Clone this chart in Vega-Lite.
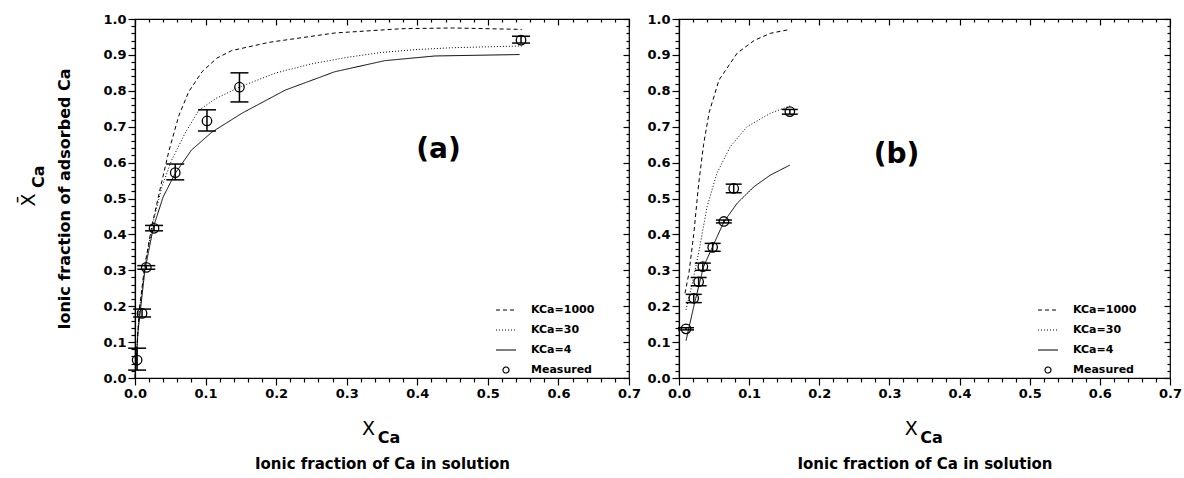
{
  "$schema": "https://vega.github.io/schema/vega-lite/v6.json",
  "padding": {"left": 19, "top": 12, "right": 0, "bottom": 5},
  "background": "white",
  "datasets": {
    "curvesA": [
      {"series": "KCa=1000", "x": 0.0, "y": 0.0},
      {"series": "KCa=1000", "x": 0.002, "y": 0.06},
      {"series": "KCa=1000", "x": 0.006, "y": 0.19},
      {"series": "KCa=1000", "x": 0.014, "y": 0.315},
      {"series": "KCa=1000", "x": 0.024, "y": 0.425},
      {"series": "KCa=1000", "x": 0.036, "y": 0.53},
      {"series": "KCa=1000", "x": 0.048, "y": 0.632},
      {"series": "KCa=1000", "x": 0.062, "y": 0.73},
      {"series": "KCa=1000", "x": 0.076, "y": 0.797},
      {"series": "KCa=1000", "x": 0.095, "y": 0.853},
      {"series": "KCa=1000", "x": 0.116, "y": 0.891},
      {"series": "KCa=1000", "x": 0.137, "y": 0.912},
      {"series": "KCa=1000", "x": 0.19, "y": 0.935},
      {"series": "KCa=1000", "x": 0.283, "y": 0.961},
      {"series": "KCa=1000", "x": 0.378, "y": 0.973},
      {"series": "KCa=1000", "x": 0.45, "y": 0.975},
      {"series": "KCa=1000", "x": 0.548, "y": 0.971},
      {"series": "KCa=30", "x": 0.0, "y": 0.0},
      {"series": "KCa=30", "x": 0.002, "y": 0.055},
      {"series": "KCa=30", "x": 0.006, "y": 0.185},
      {"series": "KCa=30", "x": 0.014, "y": 0.31},
      {"series": "KCa=30", "x": 0.024, "y": 0.42},
      {"series": "KCa=30", "x": 0.038, "y": 0.532},
      {"series": "KCa=30", "x": 0.052, "y": 0.607},
      {"series": "KCa=30", "x": 0.071, "y": 0.682},
      {"series": "KCa=30", "x": 0.09, "y": 0.745},
      {"series": "KCa=30", "x": 0.114, "y": 0.778},
      {"series": "KCa=30", "x": 0.15, "y": 0.812},
      {"series": "KCa=30", "x": 0.2, "y": 0.85},
      {"series": "KCa=30", "x": 0.25, "y": 0.875},
      {"series": "KCa=30", "x": 0.3, "y": 0.893},
      {"series": "KCa=30", "x": 0.35, "y": 0.907},
      {"series": "KCa=30", "x": 0.4, "y": 0.915},
      {"series": "KCa=30", "x": 0.45, "y": 0.92},
      {"series": "KCa=30", "x": 0.55, "y": 0.925},
      {"series": "KCa=4", "x": 0.001, "y": 0.02},
      {"series": "KCa=4", "x": 0.004, "y": 0.125},
      {"series": "KCa=4", "x": 0.014, "y": 0.3},
      {"series": "KCa=4", "x": 0.026, "y": 0.42},
      {"series": "KCa=4", "x": 0.04, "y": 0.505},
      {"series": "KCa=4", "x": 0.057, "y": 0.57},
      {"series": "KCa=4", "x": 0.08, "y": 0.635},
      {"series": "KCa=4", "x": 0.109, "y": 0.685},
      {"series": "KCa=4", "x": 0.152, "y": 0.738},
      {"series": "KCa=4", "x": 0.213, "y": 0.802},
      {"series": "KCa=4", "x": 0.283, "y": 0.853},
      {"series": "KCa=4", "x": 0.354, "y": 0.884},
      {"series": "KCa=4", "x": 0.425, "y": 0.897},
      {"series": "KCa=4", "x": 0.545, "y": 0.901}
    ],
    "pointsA": [
      {"x": 0.003, "y": 0.05, "ylo": 0.022, "yhi": 0.083},
      {"x": 0.01, "y": 0.18, "ylo": 0.17, "yhi": 0.192},
      {"x": 0.016, "y": 0.308, "ylo": 0.303, "yhi": 0.313},
      {"x": 0.027, "y": 0.417, "ylo": 0.41, "yhi": 0.425},
      {"x": 0.057, "y": 0.572, "ylo": 0.552, "yhi": 0.596},
      {"x": 0.102, "y": 0.716, "ylo": 0.688, "yhi": 0.747},
      {"x": 0.148, "y": 0.81, "ylo": 0.769, "yhi": 0.85},
      {"x": 0.547, "y": 0.941, "ylo": 0.933, "yhi": 0.952}
    ],
    "curvesB": [
      {"series": "KCa=1000", "x": 0.0085, "y": 0.236},
      {"series": "KCa=1000", "x": 0.014, "y": 0.29},
      {"series": "KCa=1000", "x": 0.021, "y": 0.4},
      {"series": "KCa=1000", "x": 0.028, "y": 0.54},
      {"series": "KCa=1000", "x": 0.035, "y": 0.65},
      {"series": "KCa=1000", "x": 0.043, "y": 0.74},
      {"series": "KCa=1000", "x": 0.057, "y": 0.83},
      {"series": "KCa=1000", "x": 0.083, "y": 0.905},
      {"series": "KCa=1000", "x": 0.107, "y": 0.94},
      {"series": "KCa=1000", "x": 0.13, "y": 0.96},
      {"series": "KCa=1000", "x": 0.158, "y": 0.971},
      {"series": "KCa=30", "x": 0.01, "y": 0.19},
      {"series": "KCa=30", "x": 0.018, "y": 0.255},
      {"series": "KCa=30", "x": 0.028, "y": 0.348},
      {"series": "KCa=30", "x": 0.04, "y": 0.477},
      {"series": "KCa=30", "x": 0.054, "y": 0.57},
      {"series": "KCa=30", "x": 0.073, "y": 0.644},
      {"series": "KCa=30", "x": 0.097, "y": 0.7},
      {"series": "KCa=30", "x": 0.13, "y": 0.737},
      {"series": "KCa=30", "x": 0.158, "y": 0.758},
      {"series": "KCa=4", "x": 0.01, "y": 0.104},
      {"series": "KCa=4", "x": 0.021, "y": 0.199},
      {"series": "KCa=4", "x": 0.035, "y": 0.31},
      {"series": "KCa=4", "x": 0.05, "y": 0.375},
      {"series": "KCa=4", "x": 0.064, "y": 0.435},
      {"series": "KCa=4", "x": 0.083, "y": 0.487},
      {"series": "KCa=4", "x": 0.107, "y": 0.533},
      {"series": "KCa=4", "x": 0.13, "y": 0.565},
      {"series": "KCa=4", "x": 0.158, "y": 0.593}
    ],
    "pointsB": [
      {"x": 0.01, "y": 0.137, "ylo": 0.134, "yhi": 0.14},
      {"x": 0.021, "y": 0.222, "ylo": 0.21, "yhi": 0.233},
      {"x": 0.028, "y": 0.268, "ylo": 0.257, "yhi": 0.28},
      {"x": 0.034, "y": 0.31, "ylo": 0.3, "yhi": 0.32},
      {"x": 0.048, "y": 0.364, "ylo": 0.353, "yhi": 0.375},
      {"x": 0.064, "y": 0.436, "ylo": 0.432, "yhi": 0.44},
      {"x": 0.078, "y": 0.528, "ylo": 0.516, "yhi": 0.54},
      {"x": 0.158, "y": 0.742, "ylo": 0.735, "yhi": 0.748}
    ]
  },
  "spacing": 4,
  "resolve": {"scale": {"strokeDash": "independent"}, "legend": {"strokeDash": "independent"}},
  "hconcat": [
    {
      "width": 494,
      "height": 359,
      "resolve": {"axis": {"x": "independent", "y": "independent"}},
      "layer": [
        {
          "data": {"name": "curvesA"},
          "mark": {"type": "line", "color": "black", "strokeWidth": 1},
          "encoding": {
            "x": {"field": "x", "type": "quantitative", "scale": {"domain": [0, 0.7], "nice": false},
              "axis": {"orient": "bottom", "title": "Ionic fraction of Ca in solution", "titleFontSize": 15, "titlePadding": 56,
                "values": [0,0.02,0.04,0.06,0.08,0.1,0.12,0.14,0.16,0.18,0.2,0.22,0.24,0.26,0.28,0.3,0.32,0.34,0.36,0.38,0.4,0.42,0.44,0.46,0.48,0.5,0.52,0.54,0.56,0.58,0.6,0.62,0.64,0.66,0.68,0.7],
                "labelExpr": "abs(datum.value*10 - round(datum.value*10)) < 0.001 ? format(datum.value, '.1f') : ''",
                "labelOverlap": false, "labelFlush": false, "labelPadding": 2,
                "tickSize": {"condition": {"test": "abs(datum.value*10 - round(datum.value*10)) < 0.001", "value": 7}, "value": 4}}},
            "y": {"field": "y", "type": "quantitative", "scale": {"domain": [0, 1], "nice": false},
              "axis": {"orient": "left", "title": "Ionic fraction of adsorbed Ca", "titleFontSize": 16, "titlePadding": 30,
                "values": [0,0.02,0.04,0.06,0.08,0.1,0.12,0.14,0.16,0.18,0.2,0.22,0.24,0.26,0.28,0.3,0.32,0.34,0.36,0.38,0.4,0.42,0.44,0.46,0.48,0.5,0.52,0.54,0.56,0.58,0.6,0.62,0.64,0.66,0.68,0.7,0.72,0.74,0.76,0.78,0.8,0.82,0.84,0.86,0.88,0.9,0.92,0.94,0.96,0.98,1],
                "labelExpr": "abs(datum.value*10 - round(datum.value*10)) < 0.001 ? format(datum.value, '.1f') : ''",
                "labelOverlap": false, "labelFlush": false, "labelPadding": 2,
                "tickSize": {"condition": {"test": "abs(datum.value*10 - round(datum.value*10)) < 0.001", "value": 7}, "value": 4}}},
            "strokeDash": {"field": "series", "type": "nominal",
              "scale": {"domain": ["KCa=1000", "KCa=30", "KCa=4", "Measured"], "range": [[4, 3], [1, 2], [1, 0], [1, 0]]},
              "legend": {"orient": "none", "legendX": 360, "legendY": 280, "title": null,
                "encode": {"symbols": {"update": {
                  "shape": {"signal": "datum.value === 'Measured' ? 'circle' : 'stroke'"},
                  "size": {"signal": "datum.value === 'Measured' ? 36 : 400"},
                  "stroke": {"value": "black"}, "fill": {"value": "transparent"}, "strokeWidth": {"value": 1.2}}}}}}
          }
        },
        {
          "data": {"name": "pointsA"},
          "mark": {"type": "rule", "color": "black", "strokeWidth": 1.5},
          "encoding": {
            "x": {"field": "x", "type": "quantitative", "scale": {"domain": [0, 0.7], "nice": false},
              "axis": {"orient": "top", "title": null, "labels": false, "domain": false,
                "values": [0,0.02,0.04,0.06,0.08,0.1,0.12,0.14,0.16,0.18,0.2,0.22,0.24,0.26,0.28,0.3,0.32,0.34,0.36,0.38,0.4,0.42,0.44,0.46,0.48,0.5,0.52,0.54,0.56,0.58,0.6,0.62,0.64,0.66,0.68,0.7],
                "tickSize": {"condition": {"test": "abs(datum.value*10 - round(datum.value*10)) < 0.001", "value": -6}, "value": -3}}},
            "y": {"field": "ylo", "type": "quantitative", "scale": {"domain": [0, 1], "nice": false},
              "axis": {"orient": "right", "title": null, "labels": false, "domain": false,
                "values": [0,0.02,0.04,0.06,0.08,0.1,0.12,0.14,0.16,0.18,0.2,0.22,0.24,0.26,0.28,0.3,0.32,0.34,0.36,0.38,0.4,0.42,0.44,0.46,0.48,0.5,0.52,0.54,0.56,0.58,0.6,0.62,0.64,0.66,0.68,0.7,0.72,0.74,0.76,0.78,0.8,0.82,0.84,0.86,0.88,0.9,0.92,0.94,0.96,0.98,1],
                "tickSize": {"condition": {"test": "abs(datum.value*10 - round(datum.value*10)) < 0.001", "value": -6}, "value": -3}}},
            "y2": {"field": "yhi"}
          }
        },
        {
          "data": {"name": "pointsA"},
          "mark": {"type": "tick", "orient": "horizontal", "size": 18, "thickness": 1.5, "color": "black", "opacity": 1},
          "encoding": {
            "x": {"field": "x", "type": "quantitative", "scale": {"domain": [0, 0.7], "nice": false}, "axis": null},
            "y": {"field": "ylo", "type": "quantitative", "scale": {"domain": [0, 1], "nice": false}, "axis": null}
          }
        },
        {
          "data": {"name": "pointsA"},
          "mark": {"type": "tick", "orient": "horizontal", "size": 18, "thickness": 1.5, "color": "black", "opacity": 1},
          "encoding": {
            "x": {"field": "x", "type": "quantitative", "scale": {"domain": [0, 0.7], "nice": false}, "axis": null},
            "y": {"field": "yhi", "type": "quantitative", "scale": {"domain": [0, 1], "nice": false}, "axis": null}
          }
        },
        {
          "data": {"name": "pointsA"},
          "mark": {"type": "point", "shape": "circle", "filled": false, "size": 90, "strokeWidth": 1.3, "color": "black", "opacity": 1},
          "encoding": {
            "x": {"field": "x", "type": "quantitative", "scale": {"domain": [0, 0.7], "nice": false}, "axis": null},
            "y": {"field": "y", "type": "quantitative", "scale": {"domain": [0, 1], "nice": false}, "axis": null}
          }
        },
        {
          "data": {"values": [{}]},
          "mark": {"type": "text", "text": "(a)", "font": "DejaVu Sans", "fontWeight": "bold", "fontSize": 28, "align": "center", "baseline": "middle", "color": "black"},
          "encoding": {
            "x": {"datum": 0.43, "type": "quantitative", "scale": {"domain": [0, 0.7], "nice": false}, "axis": null},
            "y": {"datum": 0.635, "type": "quantitative", "scale": {"domain": [0, 1], "nice": false}, "axis": null}
          }
        },
        {
          "data": {"values": [{}]},
          "mark": {"type": "text", "text": "X", "font": "DejaVu Sans", "fontSize": 19, "align": "center", "baseline": "alphabetic", "color": "black"},
          "encoding": {
            "x": {"datum": 0.331, "type": "quantitative", "scale": {"domain": [0, 0.7], "nice": false}, "axis": null},
            "y": {"datum": -0.159, "type": "quantitative", "scale": {"domain": [0, 1], "nice": false}, "axis": null}
          }
        },
        {
          "data": {"values": [{}]},
          "mark": {"type": "text", "text": "Ca", "font": "DejaVu Sans", "fontWeight": "bold", "fontSize": 16, "align": "left", "baseline": "alphabetic", "color": "black"},
          "encoding": {
            "x": {"datum": 0.344, "type": "quantitative", "scale": {"domain": [0, 0.7], "nice": false}, "axis": null},
            "y": {"datum": -0.181, "type": "quantitative", "scale": {"domain": [0, 1], "nice": false}, "axis": null}
          }
        },
        {
          "data": {"values": [{}]},
          "mark": {"type": "text", "text": "X\u0304", "font": "DejaVu Sans", "fontSize": 19, "align": "center", "baseline": "alphabetic", "angle": 270, "color": "black"},
          "encoding": {
            "x": {"datum": -0.1416, "type": "quantitative", "scale": {"domain": [0, 0.7], "nice": false}, "axis": null},
            "y": {"datum": 0.496, "type": "quantitative", "scale": {"domain": [0, 1], "nice": false}, "axis": null}
          }
        },
        {
          "data": {"values": [{}]},
          "mark": {"type": "text", "text": "Ca", "font": "DejaVu Sans", "fontWeight": "bold", "fontSize": 16, "align": "left", "baseline": "alphabetic", "angle": 270, "color": "black"},
          "encoding": {
            "x": {"datum": -0.129, "type": "quantitative", "scale": {"domain": [0, 0.7], "nice": false}, "axis": null},
            "y": {"datum": 0.529, "type": "quantitative", "scale": {"domain": [0, 1], "nice": false}, "axis": null}
          }
        }
      ]
    },
    {
      "width": 491,
      "height": 359,
      "resolve": {"axis": {"x": "independent", "y": "independent"}},
      "layer": [
        {
          "data": {"name": "curvesB"},
          "mark": {"type": "line", "color": "black", "strokeWidth": 1},
          "encoding": {
            "x": {"field": "x", "type": "quantitative", "scale": {"domain": [0, 0.7], "nice": false},
              "axis": {"orient": "bottom", "title": "Ionic fraction of Ca in solution", "titleFontSize": 15, "titlePadding": 56,
                "values": [0,0.02,0.04,0.06,0.08,0.1,0.12,0.14,0.16,0.18,0.2,0.22,0.24,0.26,0.28,0.3,0.32,0.34,0.36,0.38,0.4,0.42,0.44,0.46,0.48,0.5,0.52,0.54,0.56,0.58,0.6,0.62,0.64,0.66,0.68,0.7],
                "labelExpr": "abs(datum.value*10 - round(datum.value*10)) < 0.001 ? format(datum.value, '.1f') : ''",
                "labelOverlap": false, "labelFlush": false, "labelPadding": 2,
                "tickSize": {"condition": {"test": "abs(datum.value*10 - round(datum.value*10)) < 0.001", "value": 7}, "value": 4}}},
            "y": {"field": "y", "type": "quantitative", "scale": {"domain": [0, 1], "nice": false},
              "axis": {"orient": "left", "title": null,
                "values": [0,0.02,0.04,0.06,0.08,0.1,0.12,0.14,0.16,0.18,0.2,0.22,0.24,0.26,0.28,0.3,0.32,0.34,0.36,0.38,0.4,0.42,0.44,0.46,0.48,0.5,0.52,0.54,0.56,0.58,0.6,0.62,0.64,0.66,0.68,0.7,0.72,0.74,0.76,0.78,0.8,0.82,0.84,0.86,0.88,0.9,0.92,0.94,0.96,0.98,1],
                "labelExpr": "abs(datum.value*10 - round(datum.value*10)) < 0.001 ? format(datum.value, '.1f') : ''",
                "labelOverlap": false, "labelFlush": false, "labelPadding": 2,
                "tickSize": {"condition": {"test": "abs(datum.value*10 - round(datum.value*10)) < 0.001", "value": 7}, "value": 4}}},
            "strokeDash": {"field": "series", "type": "nominal",
              "scale": {"domain": ["KCa=1000", "KCa=30", "KCa=4", "Measured"], "range": [[4, 3], [1, 2], [1, 0], [1, 0]]},
              "legend": {"orient": "none", "legendX": 358, "legendY": 280, "title": null,
                "encode": {"symbols": {"update": {
                  "shape": {"signal": "datum.value === 'Measured' ? 'circle' : 'stroke'"},
                  "size": {"signal": "datum.value === 'Measured' ? 36 : 400"},
                  "stroke": {"value": "black"}, "fill": {"value": "transparent"}, "strokeWidth": {"value": 1.2}}}}}}
          }
        },
        {
          "data": {"name": "pointsB"},
          "mark": {"type": "rule", "color": "black", "strokeWidth": 1.5},
          "encoding": {
            "x": {"field": "x", "type": "quantitative", "scale": {"domain": [0, 0.7], "nice": false},
              "axis": {"orient": "top", "title": null, "labels": false, "domain": false,
                "values": [0,0.02,0.04,0.06,0.08,0.1,0.12,0.14,0.16,0.18,0.2,0.22,0.24,0.26,0.28,0.3,0.32,0.34,0.36,0.38,0.4,0.42,0.44,0.46,0.48,0.5,0.52,0.54,0.56,0.58,0.6,0.62,0.64,0.66,0.68,0.7],
                "tickSize": {"condition": {"test": "abs(datum.value*10 - round(datum.value*10)) < 0.001", "value": -6}, "value": -3}}},
            "y": {"field": "ylo", "type": "quantitative", "scale": {"domain": [0, 1], "nice": false},
              "axis": {"orient": "right", "title": null, "labels": false, "domain": false,
                "values": [0,0.02,0.04,0.06,0.08,0.1,0.12,0.14,0.16,0.18,0.2,0.22,0.24,0.26,0.28,0.3,0.32,0.34,0.36,0.38,0.4,0.42,0.44,0.46,0.48,0.5,0.52,0.54,0.56,0.58,0.6,0.62,0.64,0.66,0.68,0.7,0.72,0.74,0.76,0.78,0.8,0.82,0.84,0.86,0.88,0.9,0.92,0.94,0.96,0.98,1],
                "tickSize": {"condition": {"test": "abs(datum.value*10 - round(datum.value*10)) < 0.001", "value": -6}, "value": -3}}},
            "y2": {"field": "yhi"}
          }
        },
        {
          "data": {"name": "pointsB"},
          "mark": {"type": "tick", "orient": "horizontal", "size": 16, "thickness": 1.5, "color": "black", "opacity": 1},
          "encoding": {
            "x": {"field": "x", "type": "quantitative", "scale": {"domain": [0, 0.7], "nice": false}, "axis": null},
            "y": {"field": "ylo", "type": "quantitative", "scale": {"domain": [0, 1], "nice": false}, "axis": null}
          }
        },
        {
          "data": {"name": "pointsB"},
          "mark": {"type": "tick", "orient": "horizontal", "size": 16, "thickness": 1.5, "color": "black", "opacity": 1},
          "encoding": {
            "x": {"field": "x", "type": "quantitative", "scale": {"domain": [0, 0.7], "nice": false}, "axis": null},
            "y": {"field": "yhi", "type": "quantitative", "scale": {"domain": [0, 1], "nice": false}, "axis": null}
          }
        },
        {
          "data": {"name": "pointsB"},
          "mark": {"type": "point", "shape": "circle", "filled": false, "size": 90, "strokeWidth": 1.3, "color": "black", "opacity": 1},
          "encoding": {
            "x": {"field": "x", "type": "quantitative", "scale": {"domain": [0, 0.7], "nice": false}, "axis": null},
            "y": {"field": "y", "type": "quantitative", "scale": {"domain": [0, 1], "nice": false}, "axis": null}
          }
        },
        {
          "data": {"values": [{}]},
          "mark": {"type": "text", "text": "(b)", "font": "DejaVu Sans", "fontWeight": "bold", "fontSize": 28, "align": "center", "baseline": "middle", "color": "black"},
          "encoding": {
            "x": {"datum": 0.31, "type": "quantitative", "scale": {"domain": [0, 0.7], "nice": false}, "axis": null},
            "y": {"datum": 0.62, "type": "quantitative", "scale": {"domain": [0, 1], "nice": false}, "axis": null}
          }
        },
        {
          "data": {"values": [{}]},
          "mark": {"type": "text", "text": "X", "font": "DejaVu Sans", "fontSize": 19, "align": "center", "baseline": "alphabetic", "color": "black"},
          "encoding": {
            "x": {"datum": 0.331, "type": "quantitative", "scale": {"domain": [0, 0.7], "nice": false}, "axis": null},
            "y": {"datum": -0.159, "type": "quantitative", "scale": {"domain": [0, 1], "nice": false}, "axis": null}
          }
        },
        {
          "data": {"values": [{}]},
          "mark": {"type": "text", "text": "Ca", "font": "DejaVu Sans", "fontWeight": "bold", "fontSize": 16, "align": "left", "baseline": "alphabetic", "color": "black"},
          "encoding": {
            "x": {"datum": 0.344, "type": "quantitative", "scale": {"domain": [0, 0.7], "nice": false}, "axis": null},
            "y": {"datum": -0.181, "type": "quantitative", "scale": {"domain": [0, 1], "nice": false}, "axis": null}
          }
        }
      ]
    }
  ],
  "config": {
    "view": {"stroke": "black", "strokeWidth": 1.2},
    "font": "DejaVu Sans",
    "axis": {"domainColor": "black", "domainWidth": 1.2, "tickColor": "black", "tickWidth": 1.2, "labelColor": "black", "titleColor": "black",
      "labelFont": "DejaVu Sans", "labelFontWeight": "bold", "labelFontSize": 13,
      "titleFont": "DejaVu Sans", "titleFontWeight": "bold", "grid": false},
    "legend": {"labelFont": "DejaVu Sans", "labelFontWeight": "bold", "labelFontSize": 11, "labelColor": "black",
      "labelOffset": 14, "rowPadding": 4, "symbolStrokeColor": "black", "symbolStrokeWidth": 1.2, "padding": 0}
  }
}
